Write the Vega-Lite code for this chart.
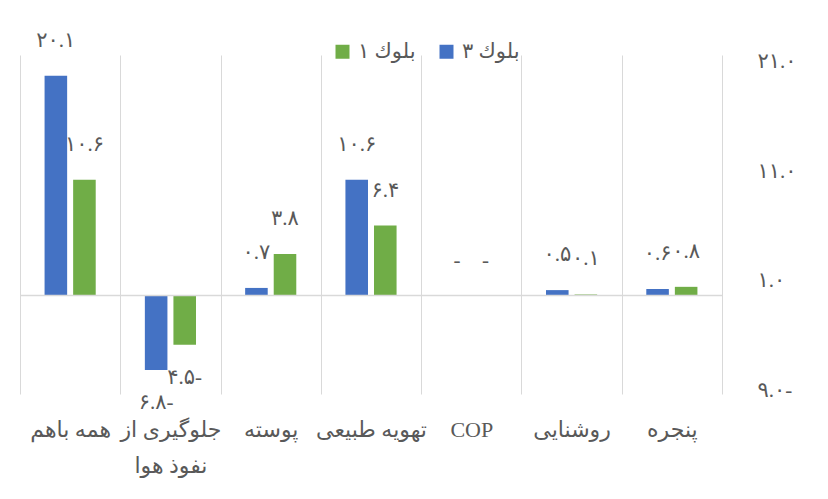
{
  "$schema": "https://vega.github.io/schema/vega-lite/v6.json",
  "width": 702,
  "height": 339,
  "autosize": {"type": "none"},
  "padding": {"left": 20, "top": 55, "right": 106, "bottom": 105},
  "background": "white",
  "config": {"view": {"stroke": null}, "font": "Liberation Serif, DejaVu Sans ExtraLight, DejaVu Sans"},
  "datasets": {
    "main": [
      {"cat": "همه باهم", "series": "بلوك ۳", "value": 20.1, "label": "۲۰.۱"},
      {"cat": "همه باهم", "series": "بلوك ۱", "value": 10.6, "label": "۱۰.۶"},
      {"cat": "جلوگیری از نفوذ هوا", "series": "بلوك ۳", "value": -6.8, "label": "۶.۸-"},
      {"cat": "جلوگیری از نفوذ هوا", "series": "بلوك ۱", "value": -4.5, "label": "۴.۵-"},
      {"cat": "پوسته", "series": "بلوك ۳", "value": 0.7, "label": "۰.۷"},
      {"cat": "پوسته", "series": "بلوك ۱", "value": 3.8, "label": "۳.۸"},
      {"cat": "تهویه طبیعی", "series": "بلوك ۳", "value": 10.6, "label": "۱۰.۶"},
      {"cat": "تهویه طبیعی", "series": "بلوك ۱", "value": 6.4, "label": "۶.۴"},
      {"cat": "COP", "series": "بلوك ۳", "value": 0, "label": "-"},
      {"cat": "COP", "series": "بلوك ۱", "value": 0, "label": "-"},
      {"cat": "روشنایی", "series": "بلوك ۳", "value": 0.5, "label": "۰.۵"},
      {"cat": "روشنایی", "series": "بلوك ۱", "value": 0.1, "label": "۰.۱"},
      {"cat": "پنجره", "series": "بلوك ۳", "value": 0.6, "label": "۰.۶"},
      {"cat": "پنجره", "series": "بلوك ۱", "value": 0.8, "label": "۰.۸"}
    ],
    "zero": [{"base": 0}]
  },
  "layer": [
    {
      "data": {"name": "main"},
      "mark": {"type": "bar"},
      "encoding": {
        "x": {
          "field": "cat", "type": "nominal",
          "sort": ["همه باهم", "جلوگیری از نفوذ هوا", "پوسته", "تهویه طبیعی", "COP", "روشنایی", "پنجره"],
          "scale": {"paddingInner": 0, "paddingOuter": 0},
          "axis": {
            "title": null, "orient": "bottom", "domain": false, "ticks": false,
            "grid": true, "tickBand": "extent", "gridColor": "#D9D9D9", "gridWidth": 1,
            "labelAngle": 0, "labelFontSize": 22, "labelColor": "#595959",
            "labelPadding": 25, "labelLineHeight": 36, "labelLimit": 0,
            "labelExpr": "datum.value == 'جلوگیری از نفوذ هوا' ? ['جلوگیری از', 'نفوذ هوا'] : datum.label"
          }
        },
        "xOffset": {"field": "series", "sort": ["بلوك ۳", "بلوك ۱"], "scale": {"paddingInner": 0.21, "paddingOuter": 0.86}},
        "y": {
          "field": "value", "type": "quantitative",
          "scale": {"domain": [-9, 22], "nice": false, "zero": false},
          "axis": {
            "title": null, "orient": "right", "domain": false, "ticks": false, "grid": false,
            "values": [-9, 1, 11, 21],
            "labelExpr": "datum.value == 21 ? '۲۱.۰' : datum.value == 11 ? '۱۱.۰' : datum.value == 1 ? '۱.۰' : '۹.۰-'",
            "labelAlign": "left", "labelPadding": 35, "labelFontSize": 21, "labelColor": "#595959", "labelOffset": -4
          }
        },
        "color": {
          "field": "series", "type": "nominal",
          "scale": {"domain": ["بلوك ۱", "بلوك ۳"], "range": ["#70AD47", "#4472C4"]},
          "legend": {
            "orient": "none", "legendX": 312, "legendY": -14, "direction": "horizontal",
            "title": null, "symbolType": "square", "symbolSize": 196, "symbolStrokeWidth": 0,
            "labelFontSize": 21, "labelColor": "#595959", "columnPadding": 20, "labelOffset": 5
          }
        }
      }
    },
    {
      "data": {"name": "zero"},
      "mark": {"type": "rule", "color": "#D9D9D9", "strokeWidth": 1.5},
      "encoding": {"y": {"field": "base", "type": "quantitative"}}
    },
    {
      "data": {"name": "main"},
      "transform": [{"filter": "datum.value >= 0"}],
      "mark": {"type": "text", "dy": -35, "fontSize": 21, "color": "#595959"},
      "encoding": {
        "x": {"field": "cat", "type": "nominal", "sort": ["همه باهم", "جلوگیری از نفوذ هوا", "پوسته", "تهویه طبیعی", "COP", "روشنایی", "پنجره"]},
        "xOffset": {"field": "series", "sort": ["بلوك ۳", "بلوك ۱"]},
        "y": {"field": "value", "type": "quantitative"},
        "text": {"field": "label"}
      }
    },
    {
      "data": {"name": "main"},
      "transform": [{"filter": "datum.value < 0"}],
      "mark": {"type": "text", "dy": 33, "fontSize": 21, "color": "#595959"},
      "encoding": {
        "x": {"field": "cat", "type": "nominal", "sort": ["همه باهم", "جلوگیری از نفوذ هوا", "پوسته", "تهویه طبیعی", "COP", "روشنایی", "پنجره"]},
        "xOffset": {"field": "series", "sort": ["بلوك ۳", "بلوك ۱"]},
        "y": {"field": "value", "type": "quantitative"},
        "text": {"field": "label"}
      }
    }
  ]
}
